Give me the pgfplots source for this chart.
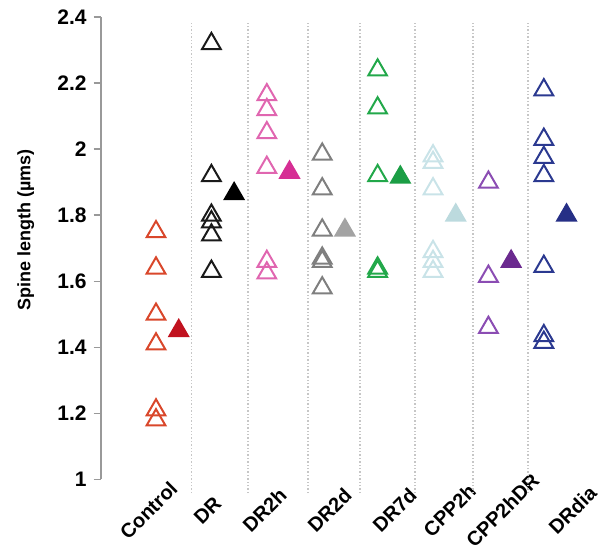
\documentclass[border=0pt]{standalone}
\usepackage{fontspec}
\setmainfont{Liberation Sans}
\usepackage{pgfplots}
\pgfplotsset{compat=1.18}

\definecolor{ctrlH}{HTML}{D9472B}
\definecolor{ctrlF}{HTML}{C1121F}
\definecolor{drH}{HTML}{1A1A1A}
\definecolor{drF}{HTML}{000000}
\definecolor{dr2hH}{HTML}{E066B0}
\definecolor{dr2hF}{HTML}{D62E94}
\definecolor{dr2dH}{HTML}{7F7F7F}
\definecolor{dr2dF}{HTML}{A3A3A3}
\definecolor{dr7dH}{HTML}{22A84A}
\definecolor{dr7dF}{HTML}{1B9E45}
\definecolor{cppH}{HTML}{C9E3E8}
\definecolor{cppF}{HTML}{BCDADE}
\definecolor{cppdrH}{HTML}{8B4DB3}
\definecolor{cppdrF}{HTML}{6B2A8F}
\definecolor{diaH}{HTML}{2B3990}
\definecolor{diaF}{HTML}{262F86}

\newcommand{\lblfont}{\bfseries\fontsize{9}{10}\selectfont}
\newcommand{\tickfont}{\bfseries\fontsize{10.5}{12}\selectfont}
\newcommand{\catfont}{\bfseries\fontsize{10}{12}\selectfont}

\begin{document}
\begin{tikzpicture}
\begin{axis}[
  x=27.7pt, y=165pt,
  xmin=-1, xmax=8, ymin=0.95, ymax=2.4,
  clip=false,
  axis line style={draw=none},
  ytick={1,1.2,1.4,1.6,1.8,2,2.2,2.4},
  ytick pos=left,
  tick align=outside,
  major tick length=3.5pt,
  ytick style={gray!80, line width=0.8pt},
  yticklabel style={font=\tickfont},
  /pgf/number format/assume math mode=true,
  xtick={-0.271,0.794,1.823,2.996,4.170,5.162,6.119,7.383},
  xticklabels={Control,DR,DR2h,DR2d,DR7d,CPP2h,CPP2hDR,DRdia},
  xtick style={draw=none},
  xticklabel style={font=\catfont, rotate=45, anchor=center, yshift=-5.3pt},
  mark size=5.4pt,
  every axis plot/.append style={only marks, line width=1pt},
  every mark/.append style={yshift=-1.3pt},
]
% dotted group separators
\pgfplotsinvokeforeach{0.644,1.661,2.744,3.682,4.675,5.722,6.715}{
  \draw[gray!45, densely dotted, line width=0.7pt] (axis cs:#1,0.958) -- (axis cs:#1,2.387);
}
\draw[gray!80, line width=1pt] (axis cs:-1,1) -- (axis cs:-1,2.4);

% Control
\addplot[mark=triangle, color=ctrlH] coordinates {(0,1.75)(0,1.64)(0,1.50)(0,1.41)(0,1.21)(0,1.18)};
\addplot[mark=triangle*, color=ctrlF] coordinates {(0.41,1.45)};
% DR
\addplot[mark=triangle, color=drH] coordinates {(1,2.32)(1,1.92)(1,1.80)(1,1.78)(1,1.74)(1,1.63)};
\addplot[mark=triangle*, color=drF] coordinates {(1.41,1.865)};
% DR2h
\addplot[mark=triangle, color=dr2hH] coordinates {(2,2.165)(2,2.12)(2,2.05)(2,1.945)(2,1.66)(2,1.625)};
\addplot[mark=triangle*, color=dr2hF] coordinates {(2.41,1.93)};
% DR2d
\addplot[mark=triangle, color=dr2dH] coordinates {(3,1.985)(3,1.88)(3,1.755)(3,1.67)(3,1.66)(3,1.58)};
\addplot[mark=triangle*, color=dr2dF] coordinates {(3.41,1.755)};
% DR7d
\addplot[mark=triangle, color=dr7dH] coordinates {(4,2.24)(4,2.125)(4,1.92)(4,1.64)(4,1.63)};
\addplot[mark=triangle*, color=dr7dF] coordinates {(4.41,1.915)};
% CPP2h
\addplot[mark=triangle, color=cppH] coordinates {(5,1.98)(5,1.96)(5,1.88)(5,1.69)(5,1.66)(5,1.63)};
\addplot[mark=triangle*, color=cppF] coordinates {(5.41,1.80)};
% CPP2hDR
\addplot[mark=triangle, color=cppdrH] coordinates {(6,1.90)(6,1.615)(6,1.46)};
\addplot[mark=triangle*, color=cppdrF] coordinates {(6.41,1.66)};
% DRdia
\addplot[mark=triangle, color=diaH] coordinates {(7,2.18)(7,2.03)(7,1.975)(7,1.92)(7,1.645)(7,1.435)(7,1.415)};
\addplot[mark=triangle*, color=diaF] coordinates {(7.41,1.80)};

\node[rotate=90, font=\lblfont] at (axis cs:-2.35,1.755) {Spine length (µms)};

\coordinate (BL) at (axis cs:-2.816,0.7676);
\coordinate (TR) at (axis cs:8.014,2.4524);
\end{axis}
\pgfresetboundingbox
\useasboundingbox (BL) rectangle (TR);
\end{tikzpicture}
\end{document}
